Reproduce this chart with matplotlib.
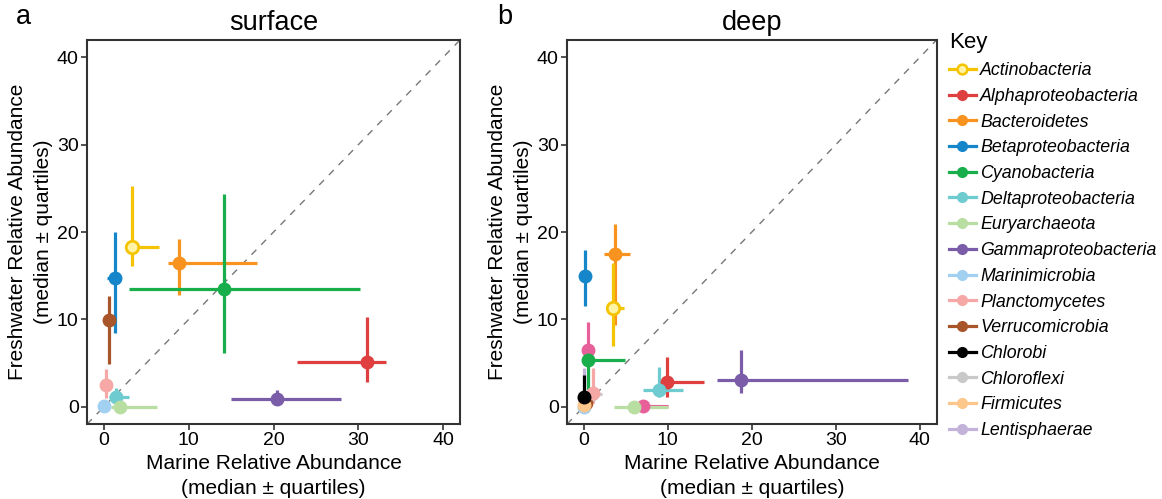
import matplotlib.pyplot as plt
from matplotlib.lines import Line2D
import numpy as np

plt.rcParams['font.family'] = ['Liberation Sans', 'DejaVu Sans']

nan = np.nan

taxa = ['Actinobacteria', 'Alphaproteobacteria', 'Bacteroidetes', 'Betaproteobacteria',
        'Cyanobacteria', 'Deltaproteobacteria', 'Euryarchaeota', 'Gammaproteobacteria',
        'Marinimicrobia', 'Planctomycetes', 'Verrucomicrobia', 'Chlorobi',
        'Chloroflexi', 'Firmicutes', 'Lentisphaerae']
colors = ['#F5C400', '#DF3F3F', '#F7931E', '#1686CB', '#17AE4B', '#6ECBD0',
          '#B9DEA2', '#7A5CA8', '#A2D0F0', '#F5A8A6', '#A9552A', '#000000',
          '#C9C9C9', '#FDC68A', '#C3B2DA']

# surface: median and quartiles (marine = x, freshwater = y)
surf_x = [3.33, 31.05, 8.8, 1.25, 14.1, 1.45, 1.9, 20.4, 0.05, 0.25, 0.6, nan, nan, nan, nan]
surf_xlo = [2.8, 22.8, 7.6, 0.4, 3.0, 0.65, 0.8, 15.0, 0.0, 0.1, 0.5, nan, nan, nan, nan]
surf_xhi = [6.5, 33.3, 18.0, 1.5, 30.2, 2.95, 6.3, 27.95, 0.1, 0.4, 0.7, nan, nan, nan, nan]
surf_y = [18.3, 5.1, 16.5, 14.7, 13.45, 1.1, 0.0, 0.88, 0.05, 2.5, 9.9, nan, nan, nan, nan]
surf_ylo = [16.1, 2.86, 12.8, 8.4, 6.2, 0.7, 0.0, 0.6, 0.0, 1.0, 4.9, nan, nan, nan, nan]
surf_yhi = [25.3, 10.3, 19.2, 20.0, 24.3, 2.1, 0.05, 1.9, 0.1, 4.3, 12.65, nan, nan, nan, nan]

# deep
deep_x = [3.42, 9.9, 3.66, 0.12, 0.55, 8.9, 6.0, 18.7, 0.0, 1.1, 0.2, 0.0, 1.0, 0.05, 0.0]
deep_xlo = [2.9, 9.1, 2.4, 0.0, 0.3, 7.05, 3.6, 15.8, 0.0, 0.9, 0.1, 0.0, 0.8, 0.0, 0.0]
deep_xhi = [4.8, 14.3, 5.55, 0.3, 4.9, 11.85, 10.0, 38.6, 0.1, 1.4, 0.3, 0.1, 2.2, 0.1, 0.05]
deep_y = [11.3, 2.85, 17.5, 15.0, 5.4, 1.9, 0.0, 3.0, 0.0, 1.6, 0.4, 1.1, 1.5, 0.15, 1.0]
deep_ylo = [7.0, 1.14, 9.4, 11.5, 1.0, 1.1, 0.0, 1.55, 0.0, 0.4, 0.2, 0.3, 1.3, 0.0, 0.5]
deep_yhi = [16.5, 5.7, 20.9, 18.0, 5.6, 4.56, 0.05, 6.5, 0.1, 4.4, 0.6, 3.6, 1.7, 0.3, 4.4]

# unlabelled pink group seen only in the deep panel
extra_color = '#E8609A'
extra_x = [0.55, 7.0]
extra_xlo = [0.4, 6.0]
extra_xhi = [0.7, 10.0]
extra_y = [6.5, 0.05]
extra_ylo = [5.4, 0.0]
extra_yhi = [9.7, 0.1]

draw_order = [12, 14, 1, 2, 3, 4, 5, 6, 7, 8, 10, 13, 9, 11, 0]


def draw_point(ax, x, xlo, xhi, y, ylo, yhi, color, open_marker=False):
    if np.isnan(x):
        return
    ax.plot([xlo, xhi], [y, y], color=color, lw=2.3, solid_capstyle='butt', zorder=3)
    ax.plot([x, x], [ylo, yhi], color=color, lw=2.3, solid_capstyle='butt', zorder=3)
    if open_marker:
        ax.plot(x, y, 'o', ms=9, mfc='#FFF3A6', mec=color, mew=2, zorder=4)
    else:
        ax.plot(x, y, 'o', ms=9, color=color, zorder=4)


def panel(ax, xs, xlos, xhis, ys, ylos, yhis, title, letter, extra=False):
    ax.plot([-2, 42], [-2, 42], ls=(0, (5, 5)), color='#777777', lw=1, zorder=1)
    if extra:
        for i in range(len(extra_x)):
            draw_point(ax, extra_x[i], extra_xlo[i], extra_xhi[i],
                       extra_y[i], extra_ylo[i], extra_yhi[i], extra_color)
    for i in draw_order:
        draw_point(ax, xs[i], xlos[i], xhis[i], ys[i], ylos[i], yhis[i],
                   colors[i], open_marker=(i == 0))
    ax.set_xlim(-2, 42)
    ax.set_ylim(-2, 42)
    ax.set_xticks([0, 10, 20, 30, 40])
    ax.set_yticks([0, 10, 20, 30, 40])
    ax.tick_params(labelsize=14, length=4, width=1.2, color='#333333', pad=2)
    for s in ax.spines.values():
        s.set_linewidth(1.5)
        s.set_color('#333333')
    ax.set_xlabel('Marine Relative Abundance\n(median ± quartiles)', fontsize=15, linespacing=1.45, labelpad=3)
    ax.set_ylabel('Freshwater Relative Abundance\n(median ± quartiles)', fontsize=15, linespacing=1.45, labelpad=3)
    ax.set_title(title, fontsize=19.5, pad=7)
    ax.text(-0.19, 1.025, letter, transform=ax.transAxes, fontsize=19.5, va='bottom')


fig = plt.figure(figsize=(11.62, 4.99), dpi=100)
ax1 = fig.add_axes([0.0749, 0.150, 0.321, 0.770])
ax2 = fig.add_axes([0.488, 0.150, 0.318, 0.770])

panel(ax1, surf_x, surf_xlo, surf_xhi, surf_y, surf_ylo, surf_yhi, 'surface', 'a')
panel(ax2, deep_x, deep_xlo, deep_xhi, deep_y, deep_ylo, deep_yhi, 'deep', 'b', extra=True)

handles = []
for i, t in enumerate(taxa):
    if i == 0:
        h = Line2D([], [], color=colors[i], lw=2.3, marker='o', ms=7, mfc='#FFF3A6', mec=colors[i], mew=1.8)
    else:
        h = Line2D([], [], color=colors[i], lw=2.3, marker='o', ms=7)
    handles.append(h)

leg = fig.legend(handles, taxa, loc='upper left', bbox_to_anchor=(0.806, 0.96),
                 frameon=False, title='Key', fontsize=12.8, title_fontsize=16,
                 handlelength=1.5, handletextpad=0.25, labelspacing=0.49, alignment='left',
                 borderaxespad=0.3)
for txt in leg.get_texts():
    txt.set_fontstyle('italic')

fig.savefig('out.png', dpi=100)
